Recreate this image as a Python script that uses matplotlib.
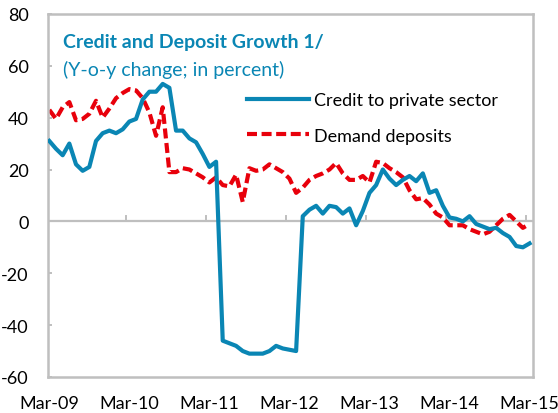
import numpy as np
import matplotlib
matplotlib.use("Agg")
import matplotlib.pyplot as plt

# Monthly y-o-y growth, Mar-09 .. Mar-15 (73 months)
credit = [31, 28, 25.5, 30, 22, 19.5, 21, 31, 34, 35, 34, 35.5,
          38.5, 39.5, 47, 50, 50, 53, 51.5, 35, 35, 32, 30.5, 26,
          21, 23, -46, -47, -48, -50, -51, -51, -51, -50, -48, -49,
          -49.5, -50, 2, 4.5, 6, 3, 6, 5.5, 3, 5, -1.5, 4,
          11, 14, 20, 16.5, 14, 16, 17.5, 15.5, 18.5, 11, 12, 6,
          1.5, 1, 0, 2, -1, -2, -3, -2.5, -4.5, -6, -9.5, -10,
          -8.5]
deposits = [43, 39.5, 44, 46, 39, 39.5, 41.5, 46.5, 40, 43.5, 47.5, 49.5,
            51, 50.5, 47.5, 42, 33, 44, 19, 19, 20.5, 20, 18.5, 17,
            15, 17, 14, 13.5, 18, 7.5, 20.5, 19.5, 20, 22, 20.5, 19,
            16.5, 11, 13, 16, 17.5, 18.5, 20, 22.5, 18.5, 16, 16, 17.5,
            15, 23, 22.5, 20.5, 19, 17, 12, 8.5, 9, 6.5, 3, 1.5,
            -1.5, -1.5, -1.5, -3, -4, -5, -4, -1.5, 1, 2.5, 0, -2.5,
            -1]
year_labels = ["Mar-09", "Mar-10", "Mar-11", "Mar-12", "Mar-13", "Mar-14", "Mar-15"]
y_ticks = [-60, -40, -20, 0, 20, 40, 60, 80]

plt.rcParams['font.family'] = ['Lato', 'DejaVu Sans']
plt.rcParams['axes.unicode_minus'] = False
grey = "#BFBFBF"
blue = "#0A86B4"
red = "#E8000B"

months = np.arange(len(credit))

fig = plt.figure(figsize=(5.58, 4.14), dpi=100)
ax = fig.add_axes([0.086, 0.087, 0.869, 0.877])

ax.axhline(0, color=grey, lw=1.6, zorder=1)
# year markers on the zero line
for xt in np.arange(11.5, 72, 12):
    ax.plot([xt, xt], [0, 2.2], color=grey, lw=1.4, zorder=1)

ax.plot(months, credit, color=blue, lw=3.0, label="Credit to private sector",
        solid_joinstyle="round", zorder=3)
ax.plot(months, deposits, color=red, lw=3.0, dashes=(2.4, 1.1),
        label="Demand deposits", zorder=2)

ax.set_xlim(-0.2, 72.5)
ax.set_ylim(-60, 80)
ax.set_yticks(y_ticks)
ax.set_xticks(np.arange(0, 73, 12))
ax.set_xticklabels(year_labels)

for s in ax.spines.values():
    s.set_color(grey)
    s.set_linewidth(1.8)

ax.tick_params(axis="y", direction="in", length=3, color=grey, width=1.4,
               labelsize=13, pad=14)
ax.tick_params(axis="x", length=0, labelsize=13, pad=13)

ax.text(0.031, 0.923, "Credit and Deposit Growth 1/", transform=ax.transAxes,
        color=blue, fontsize=14, fontweight="bold", va="center")
ax.text(0.031, 0.848, "(Y-o-y change; in percent)", transform=ax.transAxes,
        color=blue, fontsize=14, va="center")

ax.legend(loc="upper left", bbox_to_anchor=(0.396, 0.805), frameon=False,
          fontsize=13, handlelength=3.4, handletextpad=0.3, labelspacing=1.1,
          borderaxespad=0)

fig.savefig("out.png", dpi=100)
